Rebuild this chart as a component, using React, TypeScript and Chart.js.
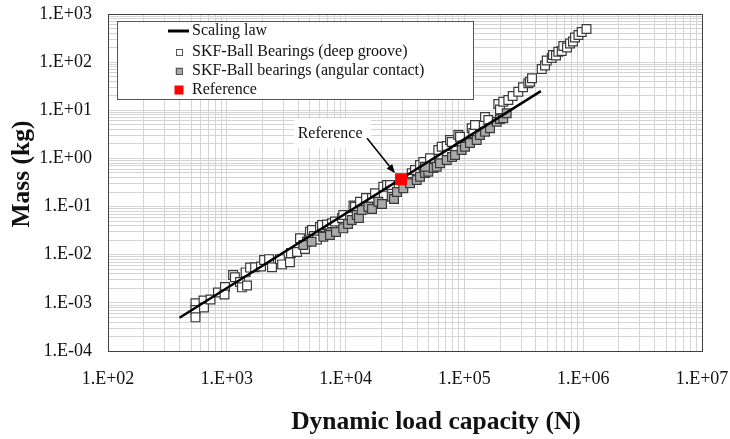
import React, { useEffect, useRef } from 'react';
import { Chart, registerables } from 'chart.js';

Chart.register(...registerables);

// ---- data ----
const SERIES_LABELS = [
  'Scaling law',
  'SKF-Ball Bearings (deep groove)',
  'SKF-Ball bearings (angular contact)',
  'Reference',
];
const X_TITLE = 'Dynamic load capacity (N)';
const Y_TITLE = 'Mass (kg)';
const ANNOTATION_TEXT = 'Reference';

const X_DECADES = [2, 3, 4, 5, 6, 7];
const Y_DECADES = [-4, -3, -2, -1, 0, 1, 2, 3];

const LAW_LOAD = [400, 440000];
const LAW_MASS = [4.9e-4, 25];

const REF_LOAD = [29300];
const REF_MASS = [0.37];

const DEEP_LOAD = [
  545, 545, 545, 637, 643, 729, 843, 966, 956, 1130, 1170, 1290, 1340, 1440, 1480,
  1570, 1730, 1940, 2060, 2270, 2400, 2800, 2920, 3400, 3470, 3900, 4130, 4550, 4730,
  5010, 5210, 5420, 5740, 6090, 6330, 6970, 7680, 8140, 9330, 9560, 10890, 11650,
  12000, 13220, 14850, 16680, 17680, 20770, 22320, 23640, 36010, 38380, 42310, 45080,
  51340, 60300, 64420, 70960, 75660, 78200, 88880, 91830, 115200, 118800, 122800,
  149100, 158900, 192900, 199300, 212500, 234200, 255000, 284200, 311400, 345100,
  356600, 370700, 447500, 477000, 492900, 543000, 556900, 590200, 617200, 659200,
  680000, 730500, 774300, 820500, 853100, 912600, 971400, 1066000,
];
const DEEP_MASS = [
  9.8e-4, 7.1e-4, 5.0e-4, 1.12e-3, 8.0e-4, 1.17e-3, 1.64e-3, 2.13e-3, 1.49e-3, 3.8e-3,
  3.4e-3, 2.7e-3, 2.1e-3, 4.3e-3, 2.3e-3, 5.4e-3, 5.5e-3, 5.7e-3, 7.8e-3, 8.1e-3,
  5.5e-3, 8.1e-3, 6.3e-3, 7.0e-3, 1.08e-2, 1.14e-2, 2.19e-2, 1.31e-2, 1.86e-2, 3.0e-2,
  3.26e-2, 2.45e-2, 2.07e-2, 3.76e-2, 4.14e-2, 4.24e-2, 4.49e-2, 4.9e-2, 5.8e-2,
  6.7e-2, 6.2e-2, 0.105, 0.0993, 0.126, 0.151, 0.151, 0.189, 0.259, 0.281, 0.281,
  0.491, 0.575, 0.73, 0.843, 1.006, 1.5, 1.75, 1.81, 2.41, 2.19, 3.07, 2.83, 4.22,
  3.38, 4.95, 7.25, 6.28, 13.5, 10.4, 15.1, 16.4, 19.8, 24.3, 30.0, 36.3, 39.2, 46.2,
  72.0, 85.2, 108, 122, 141, 137, 165, 170, 216, 201, 244, 268, 325, 366, 423, 488,
];

const ANG_LOAD = [
  4400, 5180, 6490, 7390, 8300, 9560, 10480, 11250, 12400, 12950, 13660, 15530, 16680,
  18850, 20250, 24430, 25550, 27080, 30600, 34840, 39680, 42310, 46600, 49680, 54720,
  58470, 62300, 70960, 78630, 83370, 94900, 101200, 111400, 126900, 135300, 149100,
  164300, 187100, 199300, 212500, 227000, 46600,
];
const ANG_MASS = [
  0.0159, 0.0186, 0.0237, 0.0257, 0.0296, 0.0353, 0.0434, 0.0526, 0.0668, 0.058,
  0.0849, 0.0993, 0.089, 0.126, 0.113, 0.16, 0.1436, 0.2007, 0.2395, 0.3041, 0.356,
  0.4173, 0.4979, 0.53, 0.632, 0.673, 0.792, 0.927, 1.07, 1.178, 1.496, 1.752, 2.09,
  2.41, 3.07, 3.59, 4.22, 5.79, 6.59, 6.81, 8.66, 0.673,
];

// ---- helpers ----
const FONT = '"Liberation Serif", "Times New Roman", serif';

const pts = (xs: number[], ys: number[]) => xs.map((x, i) => ({ x, y: ys[i] }));

const logTicks = (decades: number[]) => {
  const out: number[] = [];
  for (let i = 0; i < decades.length - 1; i++) {
    for (let m = 1; m <= 9; m++) out.push(Number((m * Math.pow(10, decades[i])).toPrecision(10)));
  }
  out.push(Math.pow(10, decades[decades.length - 1]));
  return out;
};

const fmtTick = (v: number) => {
  const l = Math.log10(v);
  const e = Math.round(l);
  if (Math.abs(l - e) > 1e-6) return '';
  return '1.E' + (e < 0 ? '-' : '+') + String(Math.abs(e)).padStart(2, '0');
};

const zeroPad = (s: any) => {
  s.paddingTop = 0;
  s.paddingBottom = 0;
  s.paddingLeft = 0;
  s.paddingRight = 0;
};

const overlayPlugin = {
  id: 'overlay',
  afterDraw(chart: any) {
    const { ctx, chartArea: ca, scales } = chart;
    ctx.save();
    // frame
    ctx.strokeStyle = '#404040';
    ctx.lineWidth = 1;
    ctx.strokeRect(Math.round(ca.left) + 0.5, Math.round(ca.top) + 0.5, Math.round(ca.right - ca.left), Math.round(ca.bottom - ca.top));

    // axis titles
    ctx.fillStyle = '#111';
    ctx.font = 'bold 25.5px ' + FONT;
    ctx.textAlign = 'center';
    ctx.textBaseline = 'middle';
    ctx.fillText(X_TITLE, ca.left + 328, chart.height - 17);
    ctx.save();
    ctx.translate(22, ca.top + 160);
    ctx.rotate(-Math.PI / 2);
    ctx.fillText(Y_TITLE, 0, 0);
    ctx.restore();

    // annotation
    const px = scales.x.getPixelForValue(REF_LOAD[0]);
    const py = scales.y.getPixelForValue(REF_MASS[0]);
    ctx.fillStyle = '#ffffff';
    ctx.fillRect(px - 107, py - 61, 77, 30);
    ctx.fillStyle = '#111';
    ctx.font = '16px ' + FONT;
    ctx.textAlign = 'center';
    ctx.textBaseline = 'middle';
    ctx.fillText(ANNOTATION_TEXT, px - 71, py - 45);
    const x0 = px - 34, y0 = py - 41, x1 = px - 6, y1 = py - 6;
    const ang = Math.atan2(y1 - y0, x1 - x0);
    ctx.strokeStyle = '#000';
    ctx.lineWidth = 1.5;
    ctx.beginPath();
    ctx.moveTo(x0, y0);
    ctx.lineTo(x1 - 6 * Math.cos(ang), y1 - 6 * Math.sin(ang));
    ctx.stroke();
    ctx.fillStyle = '#000';
    ctx.beginPath();
    ctx.moveTo(x1, y1);
    ctx.lineTo(x1 - 9 * Math.cos(ang) + 3.5 * Math.sin(ang), y1 - 9 * Math.sin(ang) - 3.5 * Math.cos(ang));
    ctx.lineTo(x1 - 9 * Math.cos(ang) - 3.5 * Math.sin(ang), y1 - 9 * Math.sin(ang) + 3.5 * Math.cos(ang));
    ctx.closePath();
    ctx.fill();

    // legend
    const L = Math.round(ca.left) + 9, T = Math.round(ca.top) + 7, W = 356, H = 78;
    ctx.fillStyle = '#ffffff';
    ctx.fillRect(L, T, W, H);
    ctx.strokeStyle = '#555';
    ctx.lineWidth = 1;
    ctx.strokeRect(L + 0.5, T + 0.5, W, H);
    const rows = [10, 31, 50, 69];
    const sx = L + 62;
    chart.data.datasets.forEach((ds: any, i: number) => {
      const y = T + rows[i];
      if (i === 0) {
        ctx.strokeStyle = '#000';
        ctx.lineWidth = 3;
        ctx.beginPath();
        ctx.moveTo(L + 51, y);
        ctx.lineTo(L + 72, y);
        ctx.stroke();
      } else {
        const s = i === 3 ? 9 : 7;
        ctx.fillStyle = ds.backgroundColor;
        ctx.fillRect(sx - s / 2, y - s / 2, s, s);
        if (i !== 3) {
          ctx.strokeStyle = '#555';
          ctx.lineWidth = 1;
          ctx.strokeRect(Math.round(sx - s / 2) + 0.5, Math.round(y - s / 2) + 0.5, s - 1, s - 1);
        }
      }
      ctx.fillStyle = '#111';
      ctx.font = '16px ' + FONT;
      ctx.textAlign = 'left';
      ctx.textBaseline = 'middle';
      ctx.fillText(ds.label, L + 75, y);
    });
    ctx.restore();
  },
};

export default function App() {
  const ref = useRef<HTMLCanvasElement>(null);
  useEffect(() => {
    if (!ref.current) return;
    const chart = new Chart(ref.current, {
      type: 'scatter',
      data: {
        datasets: [
          {
            label: SERIES_LABELS[0],
            data: pts(LAW_LOAD, LAW_MASS),
            showLine: true,
            borderColor: '#000',
            backgroundColor: '#000',
            borderWidth: 2.5,
            pointRadius: 0,
            order: 1,
          },
          {
            label: SERIES_LABELS[1],
            data: pts(DEEP_LOAD, DEEP_MASS),
            pointStyle: 'rect',
            pointRadius: 6.2,
            backgroundColor: '#ffffff',
            borderColor: '#3a3a3a',
            borderWidth: 1.2,
            order: 3,
          },
          {
            label: SERIES_LABELS[2],
            data: pts(ANG_LOAD, ANG_MASS),
            pointStyle: 'rect',
            pointRadius: 6.2,
            backgroundColor: '#a9a9a9',
            borderColor: '#3a3a3a',
            borderWidth: 1.2,
            order: 2,
          },
          {
            label: SERIES_LABELS[3],
            data: pts(REF_LOAD, REF_MASS),
            pointStyle: 'rect',
            pointRadius: 8.5,
            backgroundColor: '#ff0000',
            borderColor: '#ff0000',
            borderWidth: 0,
            order: 0,
          },
        ],
      },
      options: {
        responsive: false,
        animation: false,
        layout: { padding: { top: 14, right: 28, left: 0, bottom: 0 } },
        plugins: { legend: { display: false }, tooltip: { enabled: false } },
        scales: {
          x: {
            type: 'logarithmic',
            min: Math.pow(10, X_DECADES[0]),
            max: Math.pow(10, X_DECADES[X_DECADES.length - 1]),
            afterBuildTicks: (s: any) => { s.ticks = logTicks(X_DECADES).map((v) => ({ value: v })); },
            afterFit: (s: any) => { s.height = 88; zeroPad(s); },
            grid: { color: '#d4d4d4', lineWidth: 1, drawTicks: false },
            border: { display: false },
            ticks: {
              autoSkip: false,
              maxRotation: 0,
              padding: 17,
              color: '#111',
              font: { family: FONT, size: 18 },
              callback: (v: any) => fmtTick(Number(v)),
            },
          },
          y: {
            type: 'logarithmic',
            min: Math.pow(10, Y_DECADES[0]),
            max: Math.pow(10, Y_DECADES[Y_DECADES.length - 1]),
            afterBuildTicks: (s: any) => { s.ticks = logTicks(Y_DECADES).map((v) => ({ value: v })); },
            afterFit: (s: any) => { s.width = 108; zeroPad(s); },
            grid: { color: '#d4d4d4', lineWidth: 1, drawTicks: false },
            border: { display: false },
            ticks: {
              autoSkip: false,
              padding: 16,
              color: '#111',
              font: { family: FONT, size: 18 },
              callback: (v: any) => fmtTick(Number(v)),
            },
          },
        },
      },
      plugins: [overlayPlugin],
    } as any);
    return () => chart.destroy();
  }, []);
  return (
    <div style={{ position: 'absolute', left: 0, top: 0, width: 730, height: 439, background: '#fff' }}>
      <canvas ref={ref} width={730} height={439} style={{ display: 'block' }} />
    </div>
  );
}
